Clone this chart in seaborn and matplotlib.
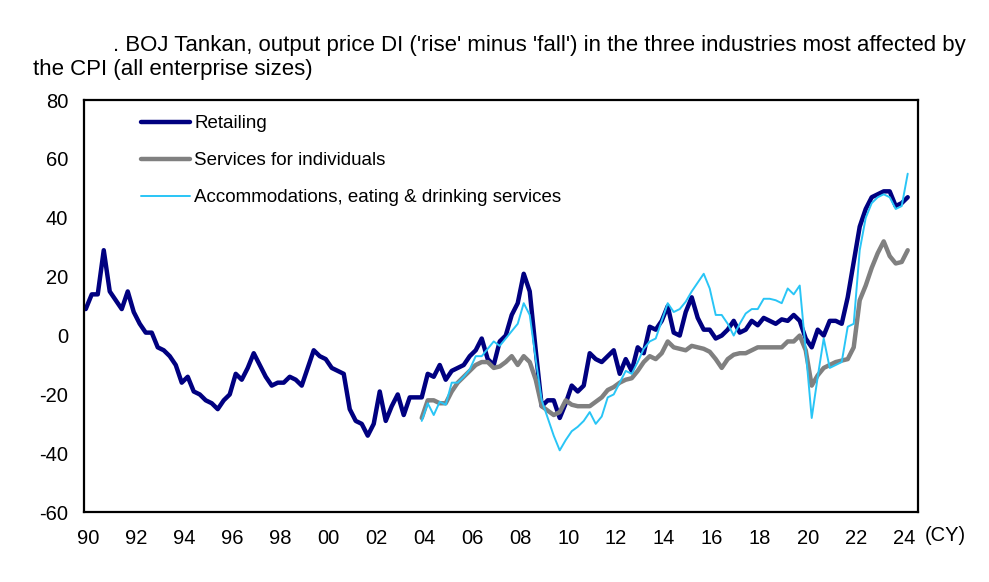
import numpy as np
import pandas as pd
import matplotlib
matplotlib.use("Agg")
import matplotlib.pyplot as plt
import seaborn as sns

# ----------------------------
# DATA (quarterly, 1990Q1 - 2024Q2)
# ----------------------------
start_year = 1990
retailing = [
    9, 14, 14, 29,          # 1990
    15, 12, 9, 15,          # 1991
    8, 4, 1, 1,             # 1992
    -4, -5, -7, -10,        # 1993
    -16, -14, -19, -20,     # 1994
    -22, -23, -25, -22,     # 1995
    -20, -13, -15, -11,     # 1996
    -6, -10, -14, -17,      # 1997
    -16, -16, -14, -15,     # 1998
    -17, -11, -5, -7,       # 1999
    -8, -11, -12, -13,      # 2000
    -25, -29, -30, -34,     # 2001
    -30, -19, -29, -24,     # 2002
    -20, -27, -21, -21,     # 2003
    -21, -13, -14, -10,     # 2004
    -15, -12, -11, -10,     # 2005
    -7, -5, -1, -8,         # 2006
    -10, -2, 0, 7,          # 2007
    11, 21, 15, -5,         # 2008
    -24, -22, -22, -28,     # 2009
    -23, -17, -19, -17,     # 2010
    -6, -8, -9, -7,         # 2011
    -5, -13, -8, -12,       # 2012
    -4, -6, 3, 2,           # 2013
    5, 10, 1, 0,            # 2014
    8, 13, 6, 2,            # 2015
    2, -1, 0, 2,            # 2016
    5, 1, 2, 5,             # 2017
    3.5, 6, 5, 4,           # 2018
    5.5, 5, 7, 5,           # 2019
    -1, -4, 2, 0,           # 2020
    5, 5, 4, 13,            # 2021
    25, 37, 43, 47,         # 2022
    48, 49, 49, 44,         # 2023
    45, 47,                 # 2024
]

# the two other series start in 2004Q1
services = [
    -28, -22, -22, -23,     # 2004
    -23, -19, -16, -14,     # 2005
    -12, -10, -9, -9,       # 2006
    -11, -10.5, -9, -7,     # 2007
    -10, -7, -9, -15,       # 2008
    -24, -25.5, -27, -26,   # 2009
    -22, -23.5, -24, -24,   # 2010
    -24, -22.5, -21, -18.5, # 2011
    -17.5, -16, -15, -14.5, # 2012
    -12, -9, -7, -8,        # 2013
    -6, -2, -4, -4.5,       # 2014
    -5, -3.5, -4, -4.5,     # 2015
    -5.5, -8, -11, -8,      # 2016
    -6.5, -6, -6, -5,       # 2017
    -4, -4, -4, -4,         # 2018
    -4, -2, -2, 0,          # 2019
    -5, -17, -13.5, -11,    # 2020
    -10, -9, -8.5, -8,      # 2021
    -4, 12, 17, 23,         # 2022
    28, 32, 27, 24.5,       # 2023
    25, 29,                 # 2024
]

accommodations = [
    -29, -23, -27, -22.5,   # 2004
    -23.5, -16, -16, -14,   # 2005
    -11.5, -7, -7, -4.5,    # 2006
    -2, -3.5, -1, 1.5,      # 2007
    4, 11, 7, -8,           # 2008
    -22, -28, -34, -39,     # 2009
    -35.5, -32.5, -31, -29, # 2010
    -26, -30, -27.5, -21,   # 2011
    -20, -16, -12, -13,     # 2012
    -9, -4.5, -2, -1,       # 2013
    5, 11, 8, 9,            # 2014
    11.5, 15, 18, 21,       # 2015
    16, 7, 7, 4,            # 2016
    0, 4, 7.5, 9,           # 2017
    9, 12.5, 12.5, 12,      # 2018
    11, 16, 14, 17,         # 2019
    -5, -28, -14, -1,       # 2020
    -11, -10, -9, 3,        # 2021
    4, 29, 40, 45,          # 2022
    47, 48, 47, 43,         # 2023
    44, 55,                 # 2024
]

year_ticks = list(range(1990, 2025, 2))
year_labels = [f"{y % 100:02d}" for y in year_ticks]

# ----------------------------
# BUILD TABLE
# ----------------------------
t_all = start_year + np.arange(len(retailing)) / 4
offset = len(retailing) - len(services)
df = pd.DataFrame({"t": t_all, "Retailing": retailing})
df["Services for individuals"] = [np.nan] * offset + services
df["Accommodations, eating & drinking services"] = [np.nan] * offset + accommodations

# ----------------------------
# PLOT
# ----------------------------
sns.set_style("white")
plt.rcParams["font.family"] = ["Liberation Sans", "DejaVu Sans"]
plt.rcParams["axes.unicode_minus"] = False
plt.rcParams["text.color"] = "black"
plt.rcParams["xtick.color"] = "black"
plt.rcParams["ytick.color"] = "black"

fig = plt.figure(figsize=(9.89, 5.82), dpi=100)
ax = fig.add_axes([0.085, 0.12, 0.843, 0.708])

styles = [
    ("Retailing", "#000080", 3.2),
    ("Services for individuals", "#808080", 3.2),
    ("Accommodations, eating & drinking services", "#29C5F6", 1.4),
]
for name, col, lw in styles:
    sub = df.dropna(subset=[name])
    sns.lineplot(data=sub, x="t", y=name, ax=ax, color=col, linewidth=lw, label=name)

ax.set_xlim(1989.93, 2024.67)
ax.set_ylim(-60, 80)
ax.set_yticks(range(-60, 81, 20))
ax.set_xticks([y + 0.1 for y in year_ticks])
ax.set_xticklabels(year_labels)
ax.set_xlabel("")
ax.set_ylabel("")
ax.tick_params(axis="y", direction="inout", length=7, width=1.5, labelsize=14.5, pad=8)
ax.tick_params(axis="x", length=0, labelsize=14.5, pad=12)
for sp in ax.spines.values():
    sp.set_visible(True)
    sp.set_color("black")
    sp.set_linewidth(1.6)

ax.text(1.008, -0.057, "(CY)", transform=ax.transAxes, fontsize=14.5, va="center", ha="left")

ax.legend(loc="upper left", bbox_to_anchor=(0.068, 0.963), frameon=False,
          fontsize=13.5, handlelength=2.6, handletextpad=0.25, labelspacing=1.05,
          borderpad=0, borderaxespad=0)

fig.text(0.114, 0.922, ". BOJ Tankan, output price DI ('rise' minus 'fall') in the three industries most affected by",
         fontsize=16, va="center", ha="left")
fig.text(0.033, 0.880, "the CPI (all enterprise sizes)", fontsize=16, va="center", ha="left")

plt.savefig("out.png", dpi=100)
